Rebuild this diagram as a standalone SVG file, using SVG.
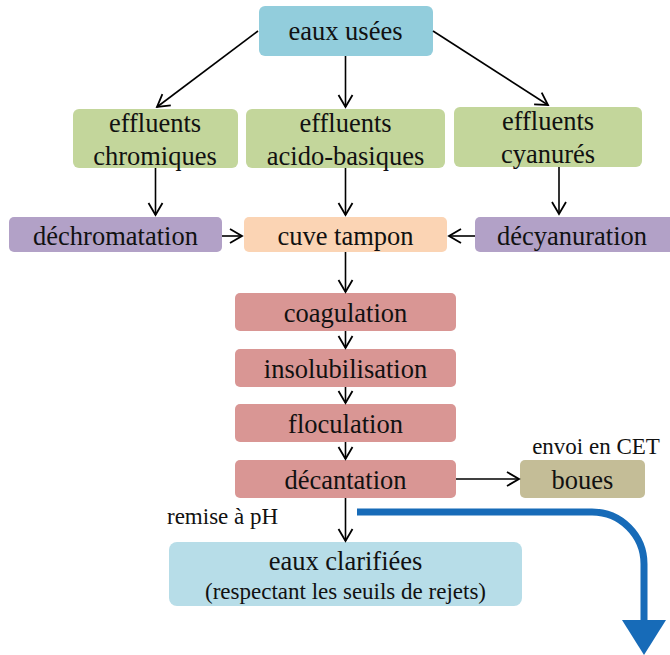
<svg xmlns="http://www.w3.org/2000/svg" width="670" height="655" viewBox="0 0 670 655">
<defs>
<marker id="arr" markerUnits="userSpaceOnUse" markerWidth="16" markerHeight="18" viewBox="0 0 16 18" refX="14" refY="9" orient="auto">
<path d="M2,2 L14,9 L2,16" fill="none" stroke="#000" stroke-width="1.8"/>
</marker>
</defs>
<style>
text{fill:#111;text-anchor:middle}
.t{font-size:26.5px}
.s{font-size:23px}
.c line{stroke:#000;stroke-width:1.6;fill:none;marker-end:url(#arr)}
.blue{fill:#92cddc}.green{fill:#c3d69b}.purple{fill:#b2a1c7}.peach{fill:#fbd4b4}.red{fill:#d99694}.tan{fill:#c4bd97}.light{fill:#b7dde8}
</style>
<rect width="670" height="655" fill="#fff"/>
<g font-family="Liberation Serif, Times New Roman, DejaVu Serif, serif">
<g id="eaux-usees"><rect class="blue" x="259" y="6" width="174" height="50" rx="6"/><text class="t" x="345.5" y="40">eaux usées</text></g>
<g id="eff-chrom"><rect class="green" x="73" y="109" width="165" height="59" rx="6"/><text class="t" x="155" y="132">effluents</text><text class="t" x="155" y="164.5">chromiques</text></g>
<g id="eff-acido"><rect class="green" x="246" y="109" width="199" height="59" rx="6"/><text class="t" x="345.5" y="132">effluents</text><text class="t" x="345.5" y="164.5">acido-basiques</text></g>
<g id="eff-cyan"><rect class="green" x="454" y="107" width="188" height="60" rx="6"/><text class="t" x="548" y="130">effluents</text><text class="t" x="548" y="163">cyanurés</text></g>
<g id="dechrom"><rect class="purple" x="9" y="217" width="213" height="35" rx="5"/><text class="t" x="115.5" y="245">déchromatation</text></g>
<g id="cuve"><rect class="peach" x="244" y="217" width="203" height="35" rx="5"/><text class="t" x="345.5" y="245">cuve tampon</text></g>
<g id="decyan"><rect class="purple" x="475" y="217" width="200" height="35" rx="5"/><text class="t" x="572" y="245">décyanuration</text></g>
<g id="coag"><rect class="red" x="235" y="293" width="221" height="38" rx="5"/><text class="t" x="345.5" y="321.5">coagulation</text></g>
<g id="insol"><rect class="red" x="235" y="349" width="221" height="38" rx="5"/><text class="t" x="345.5" y="377.5">insolubilisation</text></g>
<g id="floc"><rect class="red" x="235" y="404" width="221" height="38" rx="5"/><text class="t" x="345.5" y="432.5">floculation</text></g>
<g id="decant"><rect class="red" x="235" y="460" width="221" height="38" rx="5"/><text class="t" x="345.5" y="488.5">décantation</text></g>
<g id="boues"><rect class="tan" x="520" y="460" width="125" height="38" rx="5"/><text class="t" x="582.5" y="488.5">boues</text></g>
<g id="clarif"><rect class="light" x="169" y="542" width="353" height="64" rx="8"/><text class="t" x="345.5" y="570">eaux clarifiées</text><text class="s" x="345.5" y="598.5">(respectant les seuils de rejets)</text></g>
<g id="labels"><text class="s" x="596" y="454">envoi en CET</text><text class="s" x="167" y="524" text-anchor="start" style="text-anchor:start">remise à pH</text></g>
</g>
<g id="connectors" class="c">
<line x1="258" y1="31" x2="157" y2="107"/>
<line x1="345.5" y1="56" x2="345.5" y2="107"/>
<line x1="433" y1="31" x2="548" y2="105"/>
<line x1="155.5" y1="168" x2="155.5" y2="215"/>
<line x1="345.5" y1="168" x2="345.5" y2="215"/>
<line x1="559" y1="167" x2="559" y2="214"/>
<line x1="222" y1="236" x2="242" y2="236"/>
<line x1="475" y1="236" x2="449" y2="236"/>
<line x1="345.5" y1="252" x2="345.5" y2="292"/>
<line x1="345.5" y1="331" x2="345.5" y2="348"/>
<line x1="345.5" y1="387" x2="345.5" y2="403"/>
<line x1="345.5" y1="442" x2="345.5" y2="459"/>
<line x1="456" y1="479" x2="519" y2="479"/>
<line x1="345.5" y1="498" x2="345.5" y2="541"/>
<path d="M357,512 H592 A52,52 0 0 1 644,564 V622" fill="none" stroke="#176bb8" stroke-width="7"/>
<polygon points="622,620 666,620 644,655" fill="#176bb8"/>
</g>
</svg>
